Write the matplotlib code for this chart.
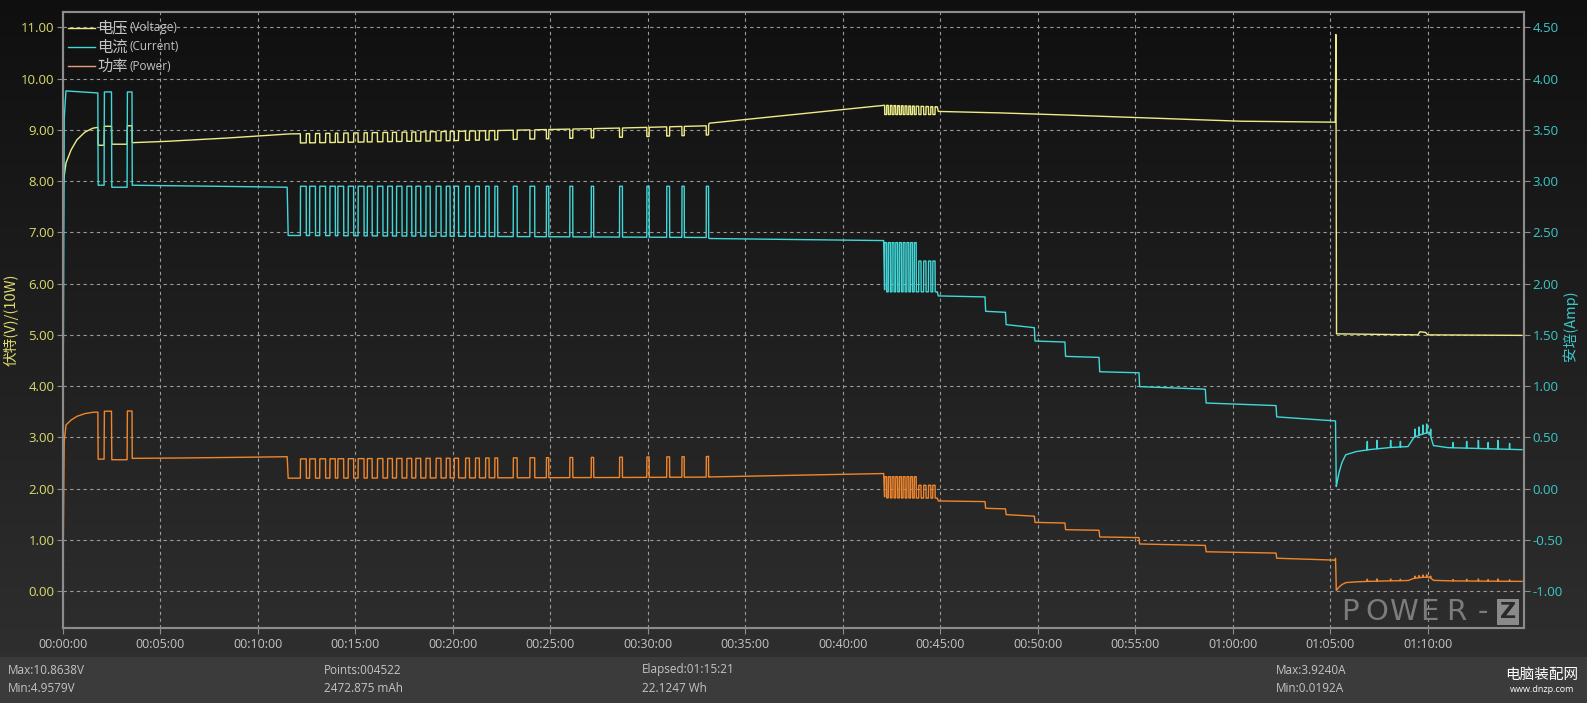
import numpy as np
import matplotlib.pyplot as plt
from matplotlib.lines import Line2D

plt.rcParams['font.family'] = ['Open Sans', 'Noto Sans CJK SC', 'DejaVu Sans']

# --- values read off the POWER-Z log, time in minutes ---
# voltage baseline (V)
volt_t = [0, 0.02, 0.06, 0.15, 0.4, 0.7, 1.1, 1.5, 1.79, 1.8, 2.11, 2.12, 2.49, 2.5,
          3.29, 3.3, 3.54, 3.55, 5.0, 8.0, 11.5, 20.0, 28.0, 33.1, 33.15, 42.1,
          44.85, 44.9, 47.3, 49.9, 55.2, 60.2, 65.27, 65.3, 65.33, 69.5, 69.6, 69.9,
          70.0, 74.85]
volt_v = [5.2, 7.9, 8.1, 8.35, 8.6, 8.8, 8.95, 9.03, 9.05, 8.70, 8.70, 9.07, 9.07, 8.72,
          8.72, 9.08, 9.08, 8.75, 8.77, 8.83, 8.92, 8.97, 9.03, 9.08, 9.13, 9.48,
          9.45, 9.36, 9.34, 9.31, 9.24, 9.17, 9.15, 10.86, 5.02, 5.0, 5.06, 5.05,
          5.0, 4.99]

# current baseline (A)
amp_t = [0, 0.06, 0.15, 1.79, 1.8, 2.11, 2.12, 2.49, 2.5, 3.29, 3.3, 3.54, 3.55, 8.0,
         11.5, 11.55, 22.0, 33.1, 33.15, 42.1, 42.15, 44.85, 44.9, 47.3, 47.33, 48.35,
         48.38, 49.83, 49.86, 51.4, 51.43, 53.15, 53.18, 55.2, 55.23, 58.6, 58.64,
         62.23, 62.26, 65.28, 65.32, 65.45, 65.6, 65.8, 66.3, 67.0, 68.0, 69.0, 69.3,
         69.7, 70.1, 70.3, 71.0, 74.85]
amp_v = [0.5, 3.6, 3.88, 3.86, 2.96, 2.96, 3.87, 3.87, 2.94, 2.94, 3.87, 3.87, 2.96, 2.95,
         2.94, 2.47, 2.46, 2.45, 2.44, 2.42, 1.92, 1.92, 1.88, 1.87, 1.73, 1.72,
         1.60, 1.57, 1.44, 1.43, 1.29, 1.28, 1.14, 1.13, 0.995, 0.97, 0.835,
         0.81, 0.70, 0.66, 0.02, 0.15, 0.25, 0.33, 0.36, 0.38, 0.40, 0.41, 0.50,
         0.53, 0.55, 0.42, 0.40, 0.38]

# high-current pulses between 11.5 and 33 min
pulse_a_start = [12.18, 12.65, 13.17, 13.69, 14.1, 14.63, 15.14, 15.61, 16.13, 16.65,
                 17.11, 17.64, 18.1, 18.62, 19.14, 19.66, 20.07, 20.65, 21.16, 21.68,
                 22.15, 23.1, 23.95, 24.8, 26.0, 27.1, 28.55, 29.95, 30.97, 31.75, 33.0]
pulse_a_width = [0.3, 0.3, 0.3, 0.28, 0.3, 0.28, 0.3, 0.25, 0.28, 0.25,
                 0.28, 0.25, 0.25, 0.22, 0.25, 0.2, 0.22, 0.2, 0.2, 0.18,
                 0.15, 0.2, 0.25, 0.12, 0.15, 0.12, 0.15, 0.12, 0.15, 0.12, 0.12]
pulse_a_amp = 2.95
pulse_a_drop = 0.18

# pulses between 42 and 45 min
pulse_b_start = [42.15, 42.34, 42.53, 42.72, 42.91, 43.10, 43.29, 43.48, 43.67,
                 43.9, 44.15, 44.4, 44.62]
pulse_b_width = [0.1, 0.1, 0.1, 0.1, 0.1, 0.1, 0.1, 0.1, 0.1, 0.12, 0.12, 0.12, 0.12]
pulse_b_amp = [2.40, 2.40, 2.40, 2.40, 2.40, 2.40, 2.40, 2.40, 2.40, 2.22, 2.22, 2.22, 2.22]
pulse_b_volt = 9.30

# short current spikes in the tail after the voltage switch (start, peak A)
tail_spike_t = [66.9, 67.4, 68.1, 68.6, 69.35, 69.55, 69.75, 69.95, 70.15, 71.3, 72.0,
                72.6, 73.1, 73.6, 74.2]
tail_spike_a = [0.46, 0.47, 0.47, 0.46, 0.58, 0.6, 0.62, 0.63, 0.58, 0.45, 0.46,
                0.47, 0.45, 0.47, 0.44]

x_ticks = [0, 5, 10, 15, 20, 25, 30, 35, 40, 45, 50, 55, 60, 65, 70]
x_labels = ["00:00:00", "00:05:00", "00:10:00", "00:15:00", "00:20:00", "00:25:00",
            "00:30:00", "00:35:00", "00:40:00", "00:45:00", "00:50:00", "00:55:00",
            "01:00:00", "01:05:00", "01:10:00"]
left_ticks = [0, 1, 2, 3, 4, 5, 6, 7, 8, 9, 10, 11]
right_ticks = [-1.0, -0.5, 0.0, 0.5, 1.0, 1.5, 2.0, 2.5, 3.0, 3.5, 4.0, 4.5]

# build the traces
t = np.arange(0, 74.85, 0.004)
volt = np.interp(t, volt_t, volt_v)
amp = np.interp(t, amp_t, amp_v)
for s, w in zip(pulse_a_start, pulse_a_width):
    m = (t >= s) & (t < s + w)
    amp[m] = pulse_a_amp
    volt[m] -= pulse_a_drop
for s, w, a in zip(pulse_b_start, pulse_b_width, pulse_b_amp):
    m = (t >= s) & (t < s + w)
    amp[m] = a
    volt[m] = pulse_b_volt
for s, a in zip(tail_spike_t, tail_spike_a):
    m = (t >= s) & (t < s + 0.02)
    amp[m] = a
power = volt * amp / 10.0  # plotted in units of 10 W

W, H = 1587, 703
YEL = '#dcdc6e'
CYA = '#3cc8c8'
GRY = '#c4c4c4'

fig = plt.figure(figsize=(W / 100, H / 100), dpi=100, facecolor='black')

# background gradient + footer band
bg = fig.add_axes([0, 0, 1, 1], zorder=-5)
rows = np.linspace(0, 1, H)[:, None]
grad = np.dstack([0.06 + 0.13 * rows] * 3)
grad[657:] = 0.235
bg.imshow(grad, aspect='auto', extent=[0, 1, 0, 1], interpolation='bilinear')
bg.axis('off')

ax = fig.add_axes([63 / W, 1 - 628 / H, (1524 - 63) / W, (628 - 12) / H])
ax.patch.set_alpha(0)
ax.set_xlim(0, 74.95)
ax.set_ylim(-0.72, 11.30)

ax.plot(t, power, color='#f0862c', lw=1.0)
ax.plot(t, volt, color='#ecec88', lw=1.0)

ax2 = ax.twinx()
ax2.set_ylim(-0.72 * 0.5 - 1, 11.30 * 0.5 - 1)
ax2.plot(t, amp, color='#40d8d8', lw=1.0)

ax.set_xticks(x_ticks)
ax.set_xticklabels(x_labels)
ax.set_yticks(left_ticks)
ax.set_yticklabels([f"{v:.2f}" for v in left_ticks])
ax2.set_yticks(right_ticks)
ax2.set_yticklabels([f"{v:.2f}" for v in right_ticks])

ax.grid(True, color='#9a9a9a', lw=0.8, linestyle=(0, (3, 3)))
ax.tick_params(axis='x', colors='#8c8c8c', labelcolor=GRY, labelsize=9, length=4, pad=3)
ax.tick_params(axis='y', colors='#8c8c8c', labelcolor=YEL, labelsize=9.5, length=4, pad=2)
ax2.tick_params(axis='y', colors='#8c8c8c', labelcolor=CYA, labelsize=9.5, length=4, pad=2)
for a in (ax, ax2):
    for sp in a.spines.values():
        sp.set_color('#8c8c8c')
        sp.set_linewidth(1.5)

# axis titles
fig.text(11 / W, 1 - 320 / H, '伏特(V)/(10W)', rotation=90, ha='center', va='center',
         color=YEL, fontsize=10.5, family=['Noto Sans CJK SC', 'DejaVu Sans'])
fig.text(1570 / W, 1 - 326 / H, '安培(Amp)', rotation=90, ha='center', va='center',
         color=CYA, fontsize=10.5, family=['Noto Sans CJK SC', 'DejaVu Sans'])

# legend drawn by hand
legend_items = [('电压', '(Voltage)', '#ecec88'), ('电流', '(Current)', '#40d8d8'),
                ('功率', '(Power)', '#e8a080')]
for k, (cn, en, c) in enumerate(legend_items):
    yy = 1 - (28 + 19 * k) / H
    fig.add_artist(Line2D([68 / W, 95 / W], [yy, yy], color=c, lw=1.0,
                          transform=fig.transFigure))
    fig.text(97 / W, yy, cn, color=GRY, fontsize=11, va='center', ha='left',
             family=['Noto Sans CJK SC'])
    fig.text(129 / W, yy, en, color=GRY, fontsize=8.5, va='center', ha='left')

# POWER-Z mark
for k, ch in enumerate('POWER-'):
    fig.text((1350 + 26.5 * k) / W, 1 - 612 / H, ch, color='#7c7c7c', fontsize=21,
             ha='center', va='center', family=['DejaVu Sans'])
fig.text(1508 / W, 1 - 612 / H, 'Z', color='#2a2a2a', fontsize=16, ha='center',
         va='center', fontweight='bold', family=['DejaVu Sans'],
         bbox=dict(boxstyle='square,pad=0.12', fc='#8a8a8a', ec='none'))

# footer stats
stats = [(8, 'Max:10.8638V', 'Min:4.9579V'), (324, 'Points:004522', '2472.875 mAh'),
         (642, 'Elapsed:01:15:21', '22.1247 Wh'), (1276, 'Max:3.9240A', 'Min:0.0192A')]
for x0, l1, l2 in stats:
    fig.text(x0 / W, 1 - 670 / H, l1, color=GRY, fontsize=8.5, va='center', ha='left')
    fig.text(x0 / W, 1 - 689 / H, l2, color=GRY, fontsize=8.5, va='center', ha='left')

fig.text(1542 / W, 1 - 675 / H, '电脑装配网', color='white', fontsize=10.5, ha='center',
         va='center', family=['Noto Sans CJK SC'])
fig.text(1542 / W, 1 - 690 / H, 'www.dnzp.com', color='white', fontsize=6.5, ha='center',
         va='center')

fig.savefig('out.png', dpi=100, facecolor='black')
